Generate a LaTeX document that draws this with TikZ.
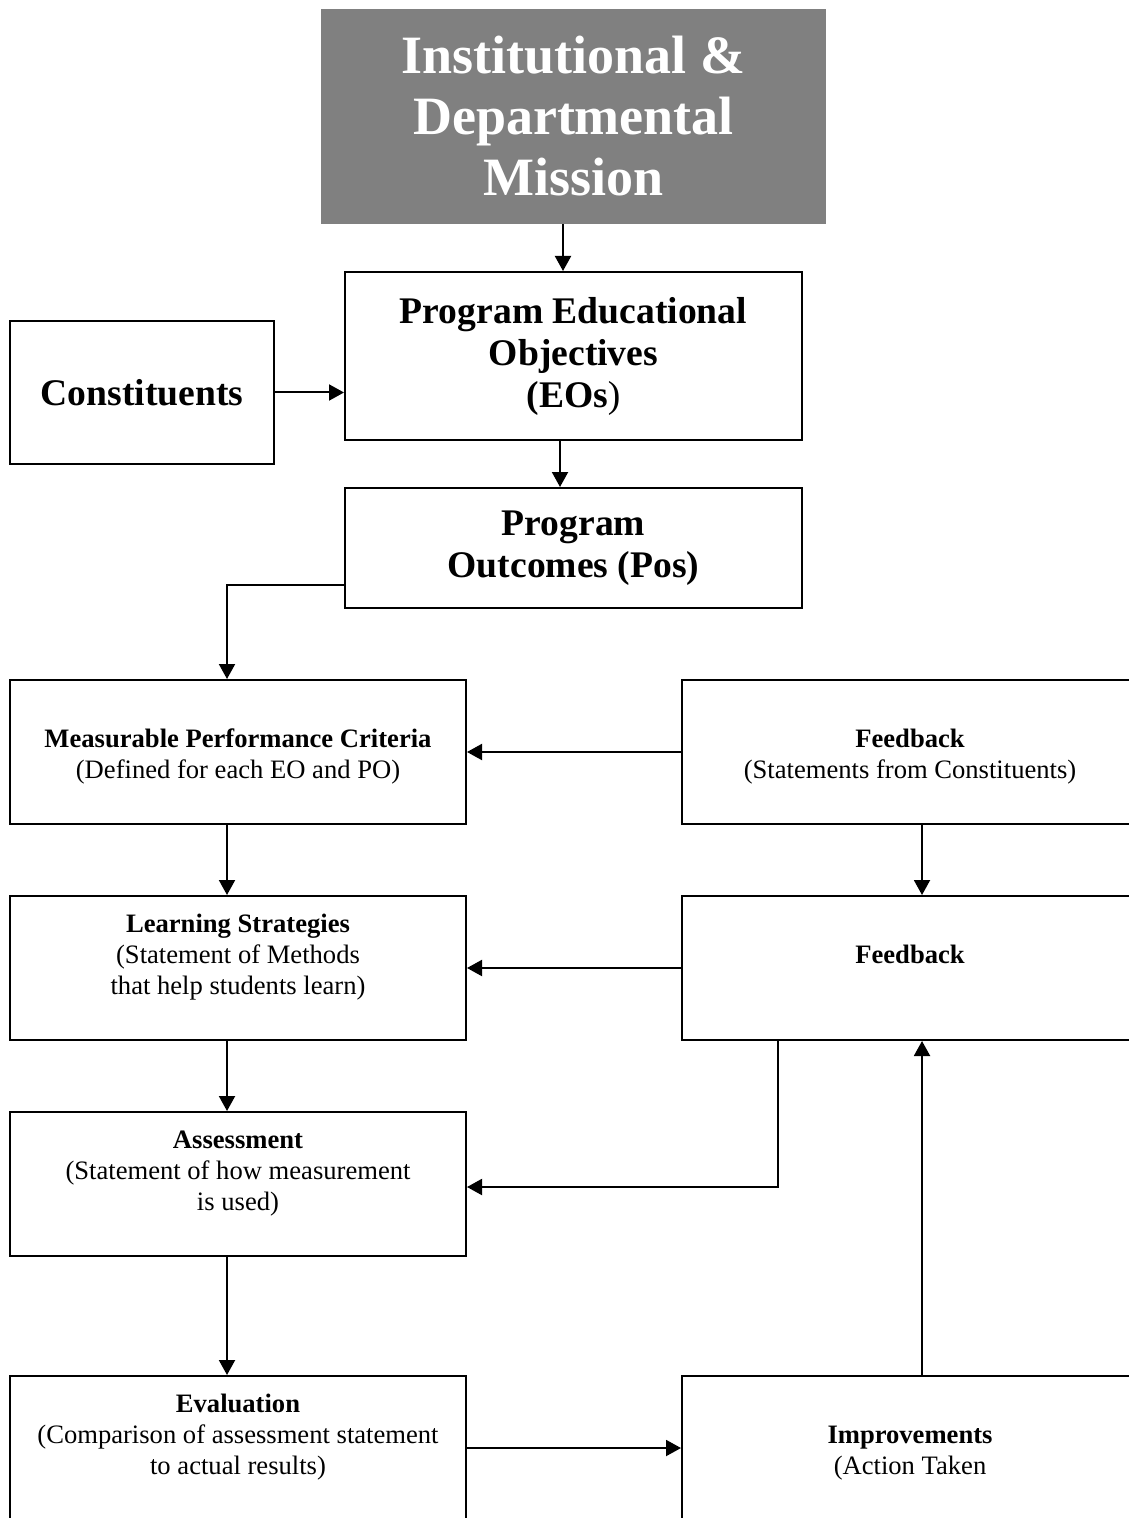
\documentclass[tikz,border=0pt]{standalone}
\usepackage{fontspec}
\setmainfont{Liberation Serif}
\usetikzlibrary{arrows.meta}
\definecolor{missiongray}{RGB}{128,128,128}
% text of a lower box, top aligned; #1 = space above the first line
\newcommand{\boxtext}[2]{\parbox[c][72pt][t]{228pt}{\centering\vspace*{#1}\strut#2}}

\begin{document}
\begin{tikzpicture}[x=0.5pt,y=0.5pt,yscale=-1,xscale=1,
  box/.style={draw, line width=1pt, rectangle, align=center, inner sep=0pt,
    font=\fontsize{13.3}{15.5}\selectfont, minimum width=228pt, minimum height=72pt},
  bigbox/.style={box, font=\fontsize{18.8}{21}\selectfont\bfseries},
  missionbox/.style={rectangle, fill=missiongray, align=center, inner sep=0pt,
    text=white, font=\fontsize{27}{30.5}\selectfont\bfseries},
  arr/.style={line width=1pt, -{Triangle[length=7.5pt,width=8pt]}}]
\useasboundingbox (0,0) rectangle (1128,1518);

%Shape: Rectangle (mission)
\node [missionbox, minimum width=252.5pt, minimum height=107.5pt] (mission) at (573.5,116.5) {Institutional \&\\Departmental\\Mission};
%Shape: Rectangle (objectives)
\node [bigbox, minimum width=228.5pt, minimum height=84pt] (peo) at (573.5,356) {Program Educational\\Objectives\\(EOs\textmd{)}};
%Shape: Rectangle (constituents)
\node [bigbox, minimum width=132pt, minimum height=71.5pt] (const) at (142,392.5) {Constituents};
%Shape: Rectangle (outcomes)
\node [bigbox, minimum width=228.5pt, minimum height=60pt] (po) at (573.5,548) {Program\\Outcomes (Pos)};

%Shape: Rectangle (left column)
\node [box] (mpc) at (238,752) {\boxtext{23pt}{\textbf{Measurable Performance Criteria}\\(Defined for each EO and PO)}};
\node [box] (ls) at (238,968) {\boxtext{7.5pt}{\textbf{Learning Strategies}\\(Statement of Methods\\that help students learn)}};
\node [box] (asmt) at (238,1184) {\boxtext{7.5pt}{\textbf{Assessment}\\(Statement of how measurement\\is used)}};
\node [box] (eval) at (238,1448) {\boxtext{7.5pt}{\textbf{Evaluation}\\(Comparison of assessment statement\\to actual results)}};

%Shape: Rectangle (right column)
\node [box] (fbone) at (910,752) {\boxtext{23pt}{\textbf{Feedback}\\(Statements from Constituents)}};
\node [box] (fbtwo) at (910,968) {\boxtext{23pt}{\textbf{Feedback}}};
\node [box] (impr) at (910,1448) {\boxtext{23pt}{\textbf{Improvements}\\(Action Taken}};

%Straight Lines
\draw [arr] ([xshift=-5.25pt]mission.south) -- ([xshift=-5.25pt]peo.north);
\draw [arr] (const.east) -- (const -| peo.west);
\draw [arr] ([xshift=-6.75pt]peo.south) -- ([xshift=-6.75pt]po.north);
\draw [arr] ([yshift=18.5pt]po.west) -| ([xshift=-5.5pt]mpc.north);
\draw [arr] (fbone.west) -- (mpc.east);
\draw [arr] ([xshift=-5.5pt]mpc.south) -- ([xshift=-5.5pt]ls.north);
\draw [arr] ([xshift=6pt]fbone.south) -- ([xshift=6pt]fbtwo.north);
\draw [arr] (fbtwo.west) -- (ls.east);
\draw [arr] ([xshift=-5.5pt]ls.south) -- ([xshift=-5.5pt]asmt.north);
\draw [arr] ([xshift=-66pt]fbtwo.south) |- ([yshift=1.5pt]asmt.east);
\draw [arr] ([xshift=-5.5pt]asmt.south) -- ([xshift=-5.5pt]eval.north);
\draw [arr] (eval.east) -- (impr.west);
\draw [arr] ([xshift=6pt]impr.north) -- ([xshift=6pt]fbtwo.south);

\end{tikzpicture}
\end{document}
